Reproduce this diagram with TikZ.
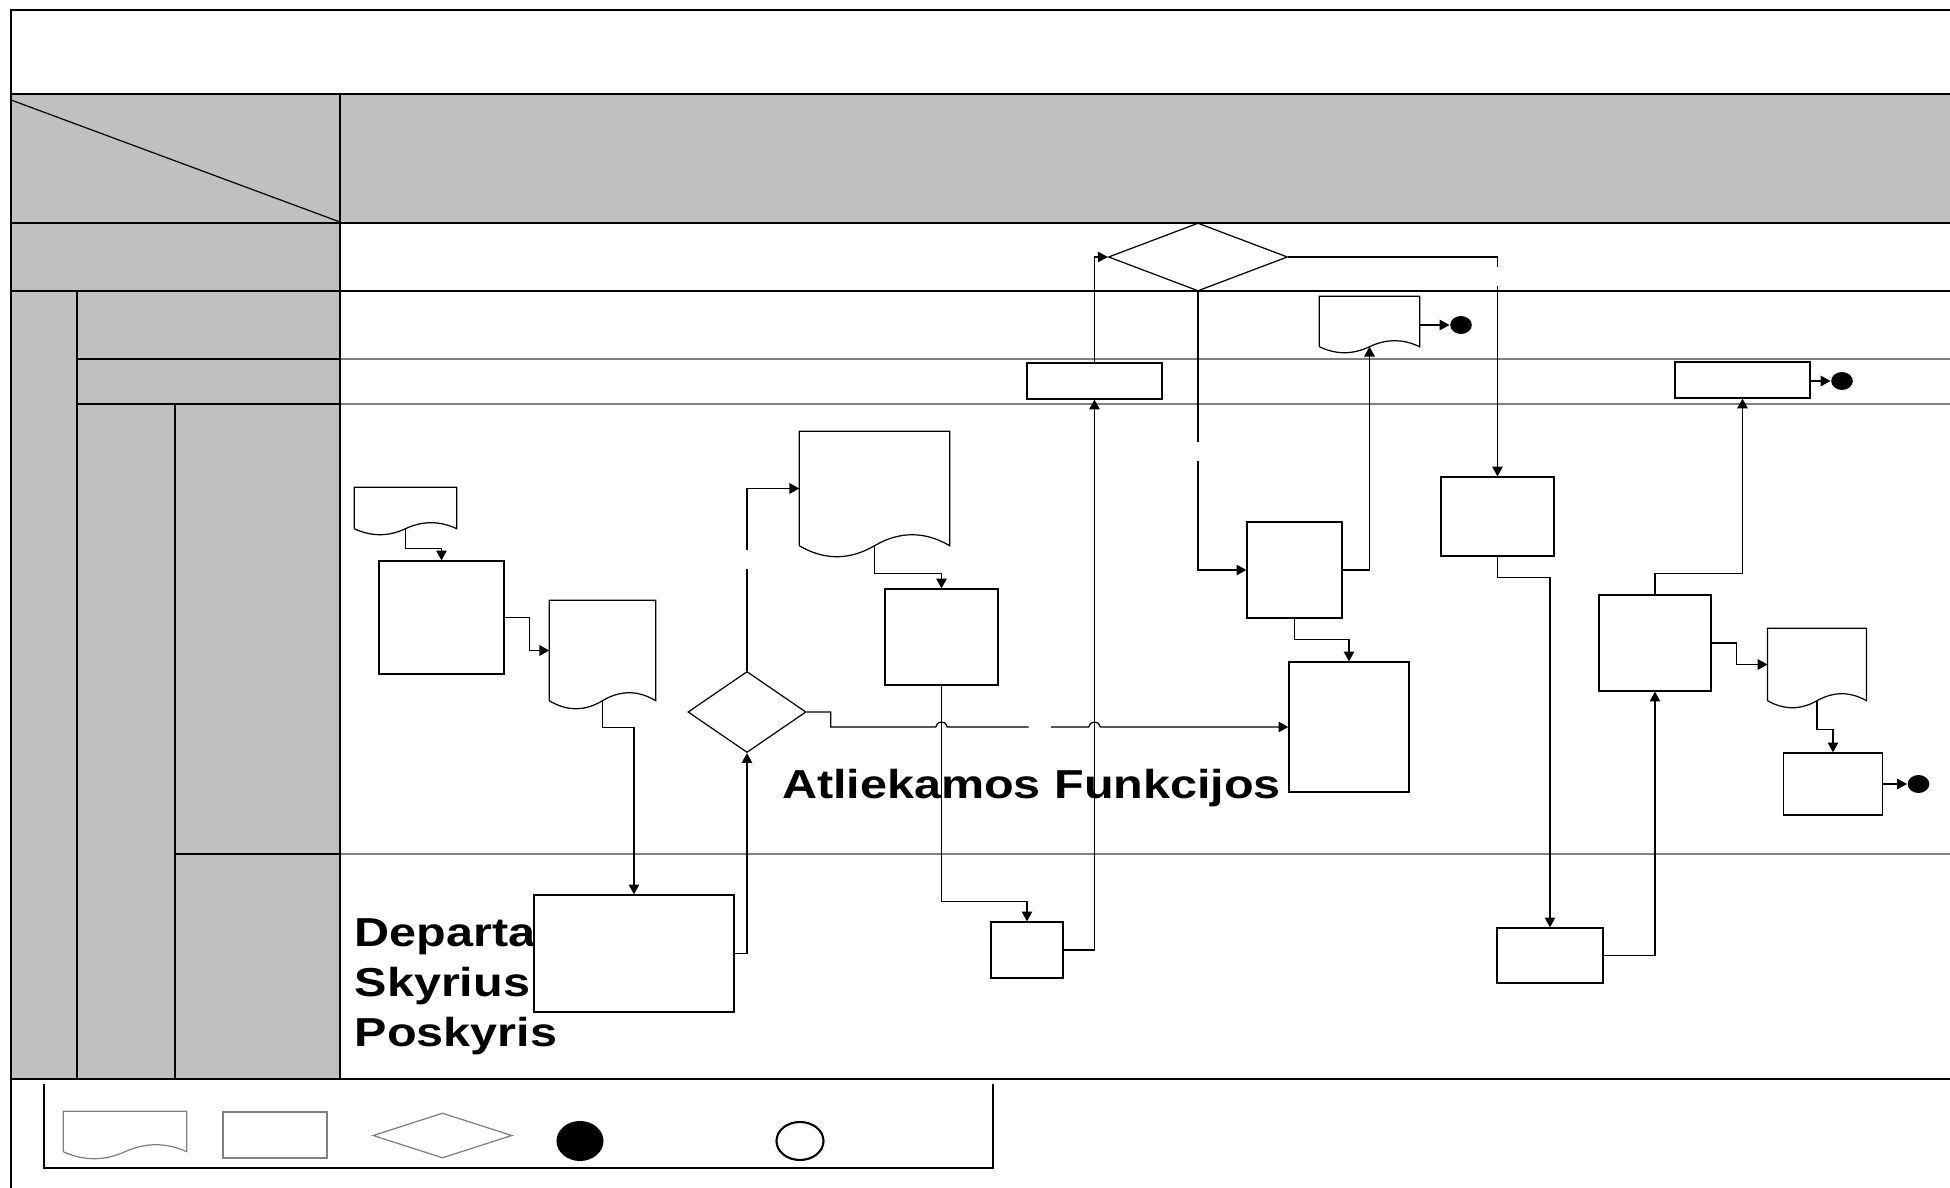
\documentclass[tikz,border=0pt]{standalone}
\usepackage{fontspec}
\setmainfont{Liberation Sans}
\usetikzlibrary{arrows.meta,shapes.geometric,calc}

\definecolor{laneGrey}{RGB}{192,192,192}
\definecolor{ruleGrey}{RGB}{128,128,128}

% document symbol: straight top and sides, wavy bottom
\newcommand{\docShape}[3][black]{%
  \draw[#1, line width=0.35pt] (#2.south west) -- (#2.north west) -- (#2.north east) -- (#2.south east)
    .. controls ($(#2.south east)!1/6!(#2.south west)+(0,-#3*4/3)$) and ($(#2.south east)!2/6!(#2.south west)+(0,-#3*4/3)$) .. (#2.south)
    .. controls ($(#2.south east)!4/6!(#2.south west)+(0,#3*4/3)$) and ($(#2.south east)!5/6!(#2.south west)+(0,#3*4/3)$) .. (#2.south west);
}
\newcommand{\stretchText}[1]{\scalebox{1.2}[1]{#1}}

\begin{document}
\begin{tikzpicture}[x=0.01cm, y=-0.01cm,
  thinline/.style={line width=0.35pt},
  thickline/.style={line width=0.8pt},
  flow/.style={thinline, -{Triangle[length=2.8pt,width=3pt]}},
  proc/.style={draw, thinline, fill=white, inner sep=0pt},
  doc/.style={inner sep=0pt},
  decision/.style={draw, thinline, diamond, fill=white, inner sep=0pt},
  stopper/.style={ellipse, fill=black, inner sep=0pt, minimum width=0.216cm, minimum height=0.18cm},
  lanetext/.style={font=\fontsize{11.5}{14}\selectfont\bfseries, inner sep=0pt}]
  \useasboundingbox (0,0) rectangle (1950,1188);

  % Grey header band and left column
  \fill[laneGrey] (11,94) rectangle (1950,223);
  \fill[laneGrey] (11,223) rectangle (340,1079);

  % Lane rules
  \draw[thinline] (11,291) -- (1950,291);
  \foreach \laneY in {359,404,854} {
    \draw[thinline, ruleGrey] (340,\laneY) -- (1950,\laneY); % right part
  }
  \draw[thinline] (77,359) -- (340,359);
  \draw[thinline] (77,404) -- (340,404);
  \draw[thinline] (175,854) -- (340,854);
  \draw[thinline] (77,291) -- (77,1079);
  \draw[thinline] (175,404) -- (175,1079);
  \draw[thinline] (340,223) -- (340,1079);
  \draw[thinline] (11,100) -- (340,222); % corner diagonal

  % Frame
  \draw[thickline] (1950,10) -- (11,10) -- (11,1188);
  \draw[thickline] (11,94) -- (1950,94);
  \draw[thickline] (11,223) -- (1950,223);
  \draw[thickline] (340,94) -- (340,223);
  \draw[thickline] (11,1079) -- (1950,1079);

  % Lane texts
  \node[lanetext, anchor=base] (funcLabel) at (1031.5,798) {\stretchText{Atliekamos Funkcijos}};
  \foreach \lineText [count=\i] in {Departa,Skyrius,Poskyris} {
    \node[lanetext, anchor=base west] (deptLine\i) at (354,896.7+50*\i) {\stretchText{\lineText}};
  }

  % Flow shapes
  \node[doc, minimum width=1.01cm, minimum height=0.40cm] (inDoc) at (405.5,508) {};
  \node[proc, minimum width=1.25cm, minimum height=1.13cm] (procOne) at (441.5,617.5) {};
  \node[doc, minimum width=1.05cm, minimum height=0.99cm] (docOne) at (602.5,650.5) {};
  \node[proc, minimum width=2.00cm, minimum height=1.17cm] (deptBox) at (634,953.5) {};
  \node[decision, minimum width=1.18cm, minimum height=0.81cm] (checkOne) at (747,712) {};
  \node[doc, minimum width=1.49cm, minimum height=1.13cm] (docTwo) at (874.5,488.5) {};
  \node[proc, minimum width=1.13cm, minimum height=0.96cm] (procTwo) at (941.5,637) {};
  \node[proc, minimum width=0.72cm, minimum height=0.56cm] (procThree) at (1027,950) {};
  \node[proc, minimum width=1.35cm, minimum height=0.36cm] (regOne) at (1094.5,381) {};
  \node[decision, minimum width=1.79cm, minimum height=0.68cm] (checkTwo) at (1198,257) {};
  \node[proc, minimum width=0.95cm, minimum height=0.96cm] (procFour) at (1294.5,570) {};
  \node[doc, minimum width=0.99cm, minimum height=0.49cm] (docThree) at (1369.5,321.5) {};
  \node[stopper] (endOne) at (1461,325) {};
  \node[proc, minimum width=1.20cm, minimum height=1.30cm] (procFive) at (1349,727) {};
  \node[proc, minimum width=1.13cm, minimum height=0.79cm] (procSix) at (1497.5,516.5) {};
  \node[proc, minimum width=1.06cm, minimum height=0.55cm] (procSeven) at (1550,955.5) {};
  \node[proc, minimum width=1.12cm, minimum height=0.96cm] (procEight) at (1655,643) {};
  \node[proc, minimum width=1.35cm, minimum height=0.36cm] (regTwo) at (1742.5,380) {};
  \node[stopper] (endTwo) at (1842,381) {};
  \node[doc, minimum width=0.975cm, minimum height=0.71cm] (docFour) at (1817,664.5) {};
  \node[proc, minimum width=0.995cm, minimum height=0.62cm] (procNine) at (1833,784) {};
  \node[stopper] (endThree) at (1918.5,784) {};
  \docShape{inDoc}{6}
  \docShape{docOne}{8}
  \docShape{docTwo}{11}
  \docShape{docThree}{6}
  \docShape{docFour}{7}

  % Breaks left in some connectors
  \coordinate (gapOneLow) at (747,569);
  \coordinate (gapOneHigh) at (747,550);
  \coordinate (gapTwoLeft) at (1028.6,727);
  \coordinate (gapTwoRight) at (1051,727);
  \coordinate (gapThreeHigh) at (1198,442);
  \coordinate (gapThreeLow) at (1198,461);
  \coordinate (gapFourHigh) at (1497.5,267);
  \coordinate (gapFourLow) at (1497.5,286);
  \coordinate (jumpOne) at (procTwo.south |- procFive.west);
  \coordinate (jumpTwo) at (regOne.south |- procFive.west);

  % Connectors
  \draw[flow] (inDoc.south) -- ++(0,20) -| (procOne.north);
  \draw[flow] (procOne.east) -- ++(25,0) |- (docOne.west);
  \draw[flow] (docOne.south) -- ++(0,27) -| (deptBox.north);
  \draw[flow] (deptBox.east) -| (checkOne.south);
  \draw[thinline] (checkOne.north) -- (gapOneLow);
  \draw[flow] (gapOneHigh) |- (docTwo.west);
  \draw[flow] (docTwo.south) -- ++(0,28) -| (procTwo.north);
  \draw[flow] (procTwo.south) -- ++(0,216) -| (procThree.north);
  \draw[flow] (procThree.east) -| (regOne.south);
  \draw[flow] (regOne.north) |- (checkTwo.west);
  \draw[thinline] (checkOne.east) -- ++(24,0) |- ([xshift=-0.058cm]jumpOne)
    arc[start angle=180, end angle=0, x radius=0.058cm, y radius=0.048cm] -- (gapTwoLeft);
  \draw[flow] (gapTwoRight) -- ([xshift=-0.058cm]jumpTwo)
    arc[start angle=180, end angle=0, x radius=0.058cm, y radius=0.048cm] -- (procFive.west);
  \draw[thinline] (checkTwo.south) -- (gapThreeHigh);
  \draw[flow] (gapThreeLow) |- (procFour.west);
  \draw[flow] (procFour.east) -| (docThree.south);
  \draw[flow] (docThree.east |- endOne) -- (endOne);
  \draw[flow] (procFour.south) -- ++(0,21) -| (procFive.north);
  \draw[thinline] (checkTwo.east) -| (gapFourHigh);
  \draw[flow] (gapFourLow) -- (procSix.north);
  \draw[flow] (procSix.south) -- ++(0,21) -| (procSeven.north);
  \draw[flow] (procSeven.east) -| (procEight.south);
  \draw[flow] (procEight.north) -- ++(0,-21) -| (regTwo.south);
  \draw[flow] (regTwo.east |- endTwo) -- (endTwo);
  \draw[flow] (procEight.east) -- ++(25,0) |- (docFour.west);
  \draw[flow] (docFour.south) -- ++(0,29) -| (procNine.north);
  \draw[flow] (procNine.east) -- (endThree);

  % Legend
  \draw[thinline] (44,1084) -- (44,1168) -- (993,1168) -- (993,1084);
  \node[doc, minimum width=1.22cm, minimum height=0.39cm] (keyDoc) at (125,1131.5) {};
  \docShape[ruleGrey]{keyDoc}{7}
  \node[proc, draw=ruleGrey, minimum width=1.04cm, minimum height=0.46cm] (keyProc) at (275,1135) {};
  \node[decision, draw=ruleGrey, minimum width=1.39cm, minimum height=0.45cm] (keyCheck) at (442.5,1135.5) {};
  \node[stopper, minimum width=0.47cm, minimum height=0.40cm] (keyStop) at (580,1141) {};
  \node[ellipse, draw, line width=0.6pt, inner sep=0pt, minimum width=0.47cm, minimum height=0.38cm] (keyStart) at (800,1141) {};
\end{tikzpicture}
\end{document}
